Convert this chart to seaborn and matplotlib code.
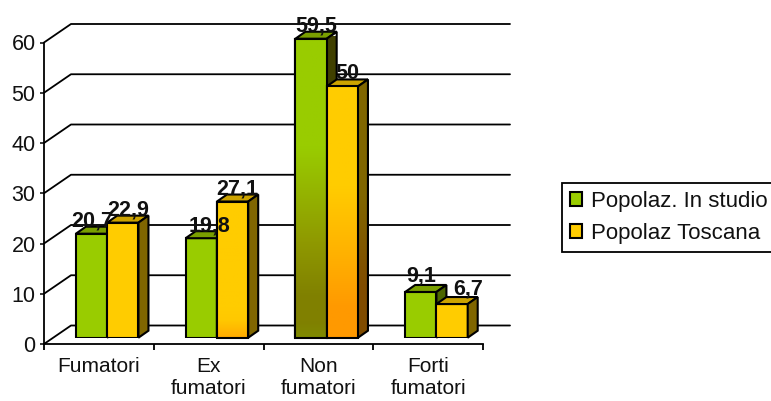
import pandas as pd
import numpy as np
import matplotlib
matplotlib.use("Agg")
import matplotlib.pyplot as plt
import matplotlib.colors as mcolors
from matplotlib.patches import Polygon
import seaborn as sns

categories = ["Fumatori", "Ex\nfumatori", "Non\nfumatori", "Forti\nfumatori"]
series_names = ["Popolaz. In studio", "Popolaz Toscana"]
studio_values = [20.7, 19.8, 59.5, 9.1]
toscana_values = [22.9, 27.1, 50, 6.7]
y_ticks = [0, 10, 20, 30, 40, 50, 60]

front_colors = ["#99CC00", "#FFCC00"]
top_colors = ["#7A9F00", "#CCA300"]
side_colors = ["#4D6600", "#806600"]

W, H = 771, 401
sns.set_style("white")
plt.rcParams["font.family"] = ["Liberation Sans", "DejaVu Sans"]

df = pd.DataFrame({
    "cat": categories * 2,
    "serie": [series_names[0]] * 4 + [series_names[1]] * 4,
    "val": studio_values + toscana_values,
})

fig = plt.figure(figsize=(W / 100, H / 100), dpi=100)
left, right, bottom, top = 44, 483, 344, 42.5


def px_axes(x_off, y_off):
    return fig.add_axes([(left + x_off) / W, (H - bottom + y_off) / H,
                         (right - left) / W, (bottom - top) / H])


ax = px_axes(0, 0)
ax.set_xlim(-0.5, 3.5)
ax.set_ylim(0, 60)
px_x = (right - left) / 4  # pixels per category
px_y = (bottom - top) / 60  # pixels per unit

# back wall lines
wall_dx, wall_dy = 27 / px_x, 18.5 / px_y
for v in y_ticks:
    ax.plot([-0.5, -0.5 + wall_dx, 3.5 + wall_dx], [v, v + wall_dy, v + wall_dy],
            color="black", lw=1.3, clip_on=False, zorder=1)

for s in ["top", "right"]:
    ax.spines[s].set_visible(False)
for s in ["left", "bottom"]:
    ax.spines[s].set_linewidth(1.3)
    ax.spines[s].set_color("black")
ax.set_yticks(y_ticks)
ax.set_xticks(np.arange(-0.5, 4))
ax.set_xticklabels([])
ax.set_xticks(range(4), labels=categories, minor=True)
ax.tick_params(axis="x", which="major", length=4, width=1.3, color="black", bottom=True, direction="out")
ax.tick_params(axis="x", which="minor", length=0, pad=9, labelsize=15, labelcolor="#111111")
ax.tick_params(axis="y", length=3, width=1.3, left=True, direction="out", pad=3, labelsize=15.5, labelcolor="#111111")
for lab in ax.get_xticklabels(minor=True):
    lab.set_linespacing(1.25)

# bars stand on the floor, a little behind the front axis
bar_ax = px_axes(8.3, 6.3)
bar_ax.patch.set_visible(False)
sns.barplot(data=df, x="cat", y="val", hue="serie", palette=front_colors, ax=bar_ax,
            width=0.57, gap=0, edgecolor="black", linewidth=1.5, saturation=1, errorbar=None)
bar_ax.set_xlim(-0.5, 3.5)
bar_ax.set_ylim(0, 60)
bar_ax.axis("off")

depth_x, depth_y = 10 / px_x, 7 / px_y


def fade(points, stops, z):
    """Vertical gradient clipped to a polygon. stops = [(value, colour), ...]"""
    poly = Polygon(points, closed=True, transform=bar_ax.transData)
    xs, ys = zip(*points)
    grid = np.linspace(max(ys), min(ys), 200)
    rgb = np.array([mcolors.to_rgb(c) for _, c in stops])
    pos = [p for p, _ in stops]
    img = np.stack([np.interp(grid, pos, rgb[:, i]) for i in range(3)], axis=1)[:, None, :]
    im = bar_ax.imshow(img, extent=[min(xs), max(xs), min(ys), max(ys)], aspect="auto",
                       zorder=z, clip_on=True)
    im.set_clip_path(poly)
    bar_ax.add_patch(Polygon(points, closed=True, fill=False, edgecolor="black", lw=1.5,
                             zorder=z + 0.1, clip_on=False))


# colour fades seen on the tall bars: series, category -> (value, colour)
fades = {
    (0, 2): [(0, "#7F8A00"), (3, "#808000"), (8, "#808000"), (19, "#8F9900"), (38, "#99CC00"), (60, "#99CC00")],
    (1, 2): [(0, "#FF9900"), (6, "#FF9900"), (16, "#FFB000"), (30, "#FFCC00"), (60, "#FFCC00")],
    (1, 1): [(0, "#FFAA00"), (3.5, "#FFC800"), (6, "#FFCC00"), (60, "#FFCC00")],
}
side_fades = {
    (1, 2): [(0, "#804C00"), (10, "#804C00"), (28, "#806600"), (60, "#806600")],
    (0, 2): [(0, "#404000"), (60, "#404000")],
}

for s, cont in enumerate(bar_ax.containers):
    for c, bar in enumerate(cont):
        z = 3 + s
        x0, w, h = bar.get_x(), bar.get_width(), bar.get_height()
        x1 = x0 + w
        bar.set_zorder(z)
        top_face = [(x0, h), (x0 + depth_x, h + depth_y), (x1 + depth_x, h + depth_y), (x1, h)]
        side_face = [(x1, 0), (x1 + depth_x, depth_y), (x1 + depth_x, h + depth_y), (x1, h)]
        bar_ax.add_patch(Polygon(top_face, closed=True, facecolor=top_colors[s], edgecolor="black",
                                 lw=1.5, zorder=z, clip_on=False))
        if (s, c) in side_fades:
            fade(side_face, side_fades[(s, c)], z)
        else:
            bar_ax.add_patch(Polygon(side_face, closed=True, facecolor=side_colors[s], edgecolor="black",
                                     lw=1.5, zorder=z, clip_on=False))
        if (s, c) in fades:
            fade([(x0, 0), (x0, h), (x1, h), (x1, 0)], fades[(s, c)], z + 0.2)

bar_ax.set_xlim(-0.5, 3.5)
bar_ax.set_ylim(0, 60)

# value labels sit on the back edge of each bar top, some are nudged (pixels)
nudges = {(0, 0): (-4, 0), (0, 1): (3, 0), (0, 3): (-5, 3), (1, 3): (11, 3)}
for s, cont in enumerate(bar_ax.containers):
    for c, bar in enumerate(cont):
        h = bar.get_height()
        label = f"{h:g}".replace(".", ",")
        nx, ny = nudges.get((s, c), (0, 0))
        bar_ax.text(bar.get_x() + bar.get_width() / 2 + (5 + nx) / px_x, h + depth_y + ny / px_y, label,
                    ha="center", va="baseline", fontsize=15.5, fontweight="bold", color="#111111",
                    zorder=10, clip_on=False)

sns.move_legend(bar_ax, "upper left", bbox_to_anchor=(562 / W, (H - 183) / H), bbox_transform=fig.transFigure,
                title=None, frameon=True, fontsize=16, fancybox=False, framealpha=1, edgecolor="black",
                handlelength=0.55, handleheight=0.55, handletextpad=0.4, labelspacing=0.5,
                borderpad=0.35, borderaxespad=0)
leg = bar_ax.get_legend()
leg.get_frame().set_linewidth(1.3)
leg.set_zorder(20)
for t in leg.get_texts():
    t.set_color("#111111")

fig.savefig("out.png", dpi=100)
